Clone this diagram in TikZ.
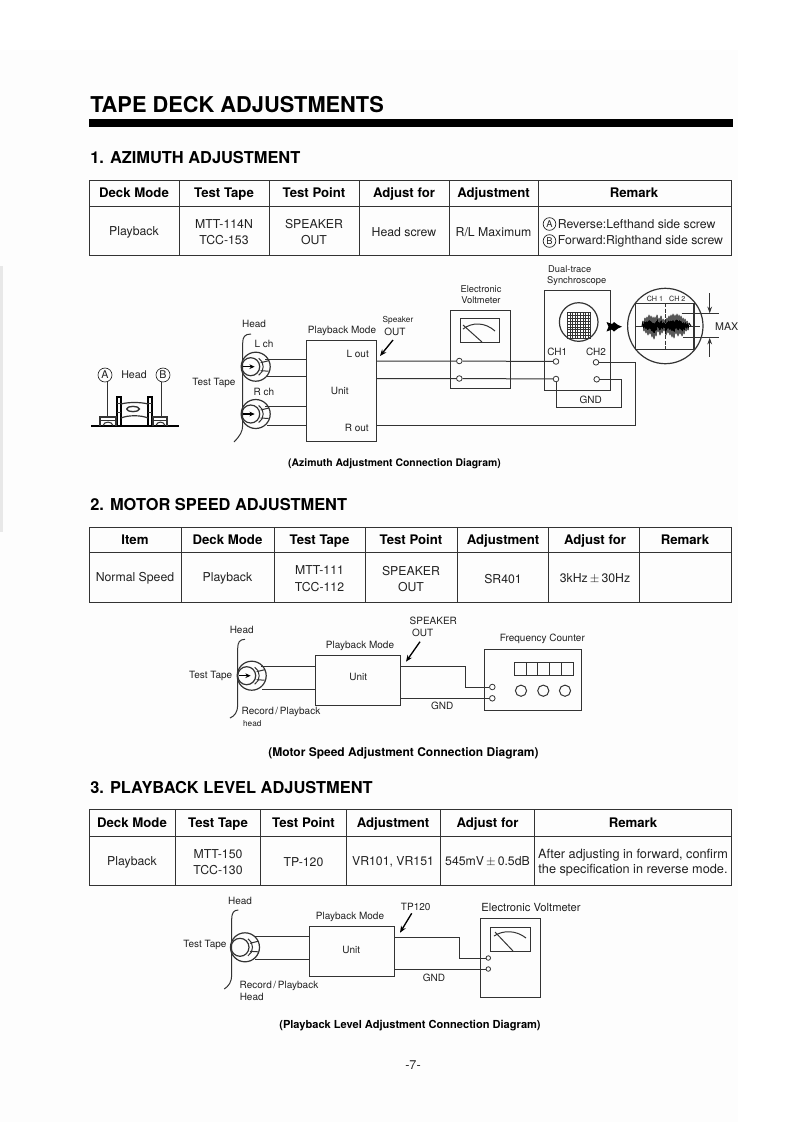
\documentclass[tikz,border=0pt]{standalone}
\usepackage{fontspec}
\setmainfont{TeX Gyre Heros}
\usetikzlibrary{fit,arrows.meta,shapes.geometric}
\definecolor{ink}{gray}{0.13}
\definecolor{lineink}{gray}{0.2}
\tikzset{
  x=0.75pt,y=-0.75pt,
  wire/.style={draw=lineink,line width=0.75pt},
  thinw/.style={draw=lineink,line width=0.6pt},
  txt/.style={inner sep=0pt,text=ink,align=center,font=\fontsize{7.5}{9}\selectfont},
  txts/.style={txt,font=\fontsize{6.2}{7.5}\selectfont},
  txtm/.style={txt,font=\fontsize{7}{8.5}\selectfont},
  cell/.style={inner sep=0pt,text=ink,align=center,font=\fontsize{9.2}{12.2}\selectfont},
  hcell/.style={inner sep=0pt,text=black,align=center,text height=7.1pt,text depth=0pt,font=\bfseries\fontsize{9.9}{12}\selectfont},
  heading/.style={inner sep=0pt,anchor=west,text=black,font=\bfseries\fontsize{12.3}{14}\selectfont},
  captext/.style={inner sep=0pt,text=black,font=\bfseries\fontsize{7.8}{9}\selectfont},
  boxn/.style={draw=lineink,line width=0.75pt,inner sep=0pt,rectangle},
  term/.style={draw=lineink,fill=white,circle,inner sep=0pt,minimum size=4.2pt,line width=0.6pt},
  cnum/.style={draw=ink,circle,inner sep=0pt,minimum size=9.5pt,line width=0.5pt,text=ink,font=\fontsize{7}{8}\selectfont},
  pointer/.style={draw=black,line width=1pt,-{Stealth[length=5pt,width=4pt]}},
  tapehead/.pic={
    \draw[wire,line width=0.9pt] (0,0) circle[radius=14.5];
    \draw[wire,line width=0.9pt] (-5,0) circle[radius=9];
    \draw[wire] (3,-8.5) .. controls (9,-5) and (9,5) .. (3,8.5);
    \draw[wire] (5,-4) -- (13,-6) (5,4) -- (13,4.5);
  },
  headarrow/.pic={
    \draw[draw=black,line width=1pt,-{Stealth[length=4pt,width=3.5pt]}] (-13,0) -- (-1,0);
  },
}
\newcommand{\bracecurve}[6]{\draw[wire] (#1,#2) .. controls (#3+2,#2) and (#3,#2+3) .. (#3,#2+9) -- (#3,#4-8) .. controls (#3,#4-1) and (#3-3,#4+3) .. (#5,#6);}
\begin{document}
\begin{tikzpicture}
\useasboundingbox (0,0) rectangle (793,1122);
\fill[white] (0,0) rectangle (793,1122);
\fill[gray!1.5] (0,50) rectangle (738,1122);
\fill[gray!18] (0,266) rectangle (3,532);
% title
\node[inner sep=0pt,anchor=west,text=black,font=\bfseries\fontsize{16.35}{18}\selectfont] (title) at (90,105) {TAPE DECK ADJUSTMENTS};
\fill[black] (89,118.5) rectangle (733,127);
% ===== section 1 =====
\node[heading] (h1) at (90,158) {1. AZIMUTH ADJUSTMENT};
\draw[wire] (89,180) rectangle (731,255) (89,206) -- (731,206);
\foreach \c in {179,269,359,449,538} \draw[wire] (\c,180) -- (\c,255);
\node[hcell] (a1) at (134,192.7) {Deck Mode};
\node[hcell] (a2) at (224,192.7) {Test Tape};
\node[hcell] (a3) at (314,192.7) {Test Point};
\node[hcell] (a4) at (404,192.7) {Adjust for};
\node[hcell] (a5) at (493.5,192.7) {Adjustment};
\node[hcell] (a6) at (634,192.7) {Remark};
\node[cell] (b1) at (134,232) {Playback};
\node[cell] (b2) at (224,232) {MTT-114N\\TCC-153};
\node[cell] (b3) at (314,232) {SPEAKER\\OUT};
\node[cell] (b4) at (404,232) {Head screw};
\node[cell] (b5) at (493.5,232) {R/L Maximum};
\node[cnum] (ca) at (549.5,224) {A};
\node[cnum] (cb) at (549.5,241) {B};
\node[cell,anchor=west] (b6a) at (557.5,224) {Reverse:Lefthand side screw};
\node[cell,anchor=west] (b6b) at (557.5,241) {Forward:Righthand side screw};
% head symbol, left
\node[cnum,font=\fontsize{8}{9}\selectfont,minimum size=10.5pt] (A) at (105,375) {A};
\node[txt,font=\fontsize{8}{9}\selectfont] (headlbl) at (134,375) {Head};
\node[cnum,font=\fontsize{8}{9}\selectfont,minimum size=10.5pt] (B) at (163,375) {B};
\coordinate (Ab) at (107,418);
\coordinate (Bb) at (161,418);
\draw[wire] (A.south-|Ab) -- (Ab);
\draw[wire] (B.south-|Bb) -- (Bb);
\draw[line width=1pt,draw=black] (91,426) -- (179,426);
\draw[line width=1.1pt,draw=black] (117,425.5) -- (117,397) -- (121,397) -- (121,425.5);
\draw[line width=1.1pt,draw=black] (148,425.5) -- (148,397) -- (152,397) -- (152,425.5);
\draw[wire] (117,403) -- (121,403) (117,412) -- (121,412) (148,403) -- (152,403) (148,412) -- (152,412);
\draw[wire,line width=0.9pt] (121,404) .. controls (128,402) and (141,402) .. (148,404);
\draw[wire,line width=0.9pt] (121,418) .. controls (128,415) and (141,415) .. (148,418);
\draw[wire,line width=1pt] (126.5,409) .. controls (127,405.5) and (139,405.5) .. (139.5,409) .. controls (139,412.5) and (127,412.5) .. (126.5,409);
\draw[wire,line width=0.9pt] (100,425.5) -- (100,417) -- (116,417) -- (116,425.5);
\draw[wire,line width=0.9pt] (153,425.5) -- (153,417) -- (167,417) -- (167,425.5);
\draw[wire] (100,420) -- (116,420) (153,420) -- (167,420);
\draw[wire] (103,425.5) .. controls (104,421) and (112,421) .. (113,425.5);
\draw[wire] (156,425.5) .. controls (157,421) and (164,421) .. (165,425.5);
% deck side
\node[txt] (th1) at (214,383) {Test Tape};
\node[txt] (hd1) at (254,324) {Head};
\node[txt] (lch) at (264,344) {L ch};
\node[txt] (rch) at (264,392) {R ch};
\bracecurve{251}{334}{242.7}{433}{234}{442}
\pic at (255.7,366.7) {tapehead};
\pic at (255.7,366.7) {headarrow};
\pic at (255.7,414) {tapehead};
\pic at (255.7,414) {headarrow};
\node[fit={(306.7,340)(376,441)},boxn] (unit1) {};
\node[txt] (pm1) at (342,331) {Playback Mode};
\node[txt] (un1) at (339.7,391) {Unit};
\node[txt] (lo1) at (357.7,353.7) {L out};
\node[txt] (ro1) at (356.7,428) {R out};
\node[txts] (spk) at (398,320.5) {Speaker};
\node[txt] (ou1) at (395,331.7) {OUT};
\coordinate (arr1) at (393,340);
\draw[pointer] (arr1) -- (380,356);
\coordinate (hl1) at (265,359);\coordinate (hl2) at (267,376.7);
\coordinate (hr1) at (265,406);\coordinate (hr2) at (267,425);
\draw[wire] (hl1) -- (hl1-|unit1.west);
\draw[wire] (hl2) -- (hl2-|unit1.west);
\draw[wire] (hr1) -- (hr1-|unit1.west);
\draw[wire] (hr2) -- (hr2-|unit1.west);
% voltmeter
\node[fit={(450.7,310)(510,388.7)},boxn] (vm1) {};
\node[txtm] (evl) at (481,294.5) {Electronic\\Voltmeter};
\draw[wire] (460.7,318) rectangle (499.3,342);
\draw[wire] (463,325) -- (482,342);
\draw[wire] (463,329) .. controls (472,322) and (485,322) .. (495,331);
% scope
\node[fit={(544.3,290)(610.7,390)},boxn] (sc) {};
\node[txtm] (dt) at (569.7,269.3) {Dual-trace};
\node[txtm] (sy) at (576.7,281) {Synchroscope};
\draw[wire,line width=0.9pt] (578.7,322) circle[radius=19.3];
\foreach \g in {0,...,9} {
  \draw[thinw,line width=0.5pt] (567.3+\g*2.6,312.7) -- (567.3+\g*2.6,338.3);
  \draw[thinw,line width=0.5pt] (567.3,312.7+\g*2.84) -- (590.7,312.7+\g*2.84);
}
\node[txt] (c1) at (557.3,352) {CH1};
\node[txt] (c2) at (596,352) {CH2};
\node[term] (v1) at (459.3,361) {};
\node[term] (v2) at (459.3,378.5) {};
\node[term] (s1) at (556,361.5) {};
\node[term] (s2) at (556,379) {};
\node[term] (s3) at (596,362.3) {};
\node[term] (s4) at (596.7,379.3) {};
\draw[wire] (unit1.east|-v1) -- (v1) (v1) -- (s1);
\draw[wire] (unit1.east|-v2) -- (v2) (v2) -- (s2);
\coordinate (k1) at (635.7,362.3);
\coordinate (k2) at (635.7,425.5);
\draw[wire] (s3) -- (k1) -- (k2) -- (k2-|unit1.east);
\coordinate (g1) at (621,379.3);
\coordinate (g2) at (621,407);
\draw[wire] (s4) -- (g1) -- (g2) -- (g2-|s2) -- (s2);
\node[txt] (gnd1) at (590.7,400) {GND};
% fat arrow
\fill[black] (606.5,322) -- (612,324) -- (614,322) -- (618,325) -- (622,326.7) -- (618,328.4) -- (614,331.5) -- (612,329.5) -- (606.5,331.5) -- (608.5,326.7) -- cycle;
% lens
\draw[wire,line width=0.9pt] (665.3,326) circle[radius=37.7];
\draw[wire,line width=1pt] (635.3,303.3) -- (694,303.3) -- (694,349.3) -- (635.3,349.3) -- cycle;
\draw[wire,dashed,dash pattern=on 3pt off 1pt] (665.7,303.3) -- (665.7,349.3);
\draw[wire] (636,326) -- (700,326);
\node[txts,font=\fontsize{5.4}{6}\selectfont] (lc1) at (655,299) {CH 1};
\node[txts,font=\fontsize{5.4}{6}\selectfont] (lc2) at (677.3,299) {CH 2};
\draw[black,line width=0.7pt,line join=round]
 (642,326) -- (643,321) -- (644,331) -- (645,318) -- (646,333) -- (647,317) -- (648,335) -- (649,315) -- (650,334)
 -- (651,316) -- (652,337) -- (653,317) -- (654,339) -- (655,317) -- (656,336) -- (657,315) -- (658,332) -- (659,318)
 -- (660,335) -- (661,316) -- (662,333) -- (663,319) -- (664,331) -- (665,320) -- (666,335) -- (667,318) -- (668,333)
 -- (669,316) -- (670,335) -- (671,315) -- (672,337) -- (673,314) -- (674,338) -- (675,315) -- (676,334) -- (677,314)
 -- (678,336) -- (679,315) -- (680,334) -- (681,316) -- (682,336) -- (683,318) -- (684,334) -- (685,319) -- (686,331)
 -- (687,321) -- (688,330) -- (689,323) -- (691,326);
\coordinate (m1a) at (681.7,313.3);\coordinate (m1b) at (719.3,313.3);
\coordinate (m2a) at (683,337.7);\coordinate (m2b) at (719.3,337.7);
\draw[wire] (m1a) -- (m1b) (m2a) -- (m2b);
\coordinate (ma1) at (709.7,293);\coordinate (ma2) at (709.7,356.7);
\draw[wire,-{Stealth[length=5pt,width=3.5pt]}] (ma1) -- (ma1|-m1a);
\draw[wire,-{Stealth[length=5pt,width=3.5pt]}] (ma2) -- (ma2|-m2a);
\node[txt,font=\fontsize{8}{9}\selectfont] (maxl) at (726.7,326.7) {MAX};
\node[captext] (cap1) at (394.5,464) {(Azimuth Adjustment Connection Diagram)};
% ===== section 2 =====
\node[heading] (h2) at (90,505) {2. MOTOR SPEED ADJUSTMENT};
\draw[wire] (89,527) rectangle (731,602) (89,552.5) -- (731,552.5);
\foreach \c in {181,274,365,457.5,548,639} \draw[wire] (\c,527) -- (\c,602);
\node[hcell] (d0) at (135,540) {Item};
\node[hcell] (d1) at (227.5,540) {Deck Mode};
\node[hcell] (d2) at (319.5,540) {Test Tape};
\node[hcell] (d3) at (411,540) {Test Point};
\node[hcell] (d4) at (503,540) {Adjustment};
\node[hcell] (d5) at (595,540) {Adjust for};
\node[hcell] (d6) at (685,540) {Remark};
\node[cell] (e0) at (135,578.7) {Normal Speed};
\node[cell] (e1) at (227.5,578.7) {Playback};
\node[cell] (e2) at (319.5,578.7) {MTT-111\\TCC-112};
\node[cell] (e3) at (411,578.7) {SPEAKER\\OUT};
\node[cell] (e4) at (503,578.7) {SR401};
\node[cell] (e5) at (595,578.7) {3kHz$\,\pm\,$30Hz};
% diagram 2
\node[txt] (hd2) at (241.7,630) {Head};
\node[txt] (tt2) at (210.7,675.7) {Test Tape};
\bracecurve{245}{639.3}{237.7}{713}{230}{718}
\pic at (251.7,675.7) {tapehead};
\pic at (251.7,675.7) {headarrow};
\node[fit={(315.7,655.7)(400.7,705.7)},boxn] (unit2) {};
\node[txt] (pm2) at (360,646) {Playback Mode};
\node[txt] (un2) at (358.3,677) {Unit};
\node[txt] (sp2) at (433.3,621) {SPEAKER};
\node[txt] (ou2) at (422.7,632.7) {OUT};
\coordinate (arr2) at (420,641.7);
\draw[pointer] (arr2) -- (406,661.7);
\coordinate (h21) at (261,666);\coordinate (h22) at (262,689);
\draw[wire] (h21) -- (h21-|unit2.west);
\draw[wire] (h22) -- (h22-|unit2.west);
\node[fit={(484,649.3)(581,710)},boxn] (fc) {};
\node[txt] (fcl) at (542.3,639.3) {Frequency Counter};
\node[term] (t21) at (492.3,687) {};
\node[term] (t22) at (492.3,698.3) {};
\coordinate (k21) at (465,666);
\coordinate (k22) at (465,687);
\draw[wire] (unit2.east|-k21) -- (k21) -- (k22) -- (t21);
\draw[wire] (unit2.east|-t22) -- (t22);
\node[txt] (gnd2) at (442.3,705.7) {GND};
\draw[wire] (514.3,662.3) rectangle (573.3,675.7);
\foreach \c in {526.1,537.9,549.7,561.5} \draw[wire] (\c,662.3) -- (\c,675.7);
\draw[wire] (521,690.7) circle[radius=5.6] (543.3,690.7) circle[radius=5.6] (565,690.7) circle[radius=5.6];
\node[txt] (rp2) at (281,712.3) {Record\,/\,Playback};
\node[txts] (hh2) at (252.3,724) {head};
\node[captext,font=\bfseries\fontsize{9}{11}\selectfont] (cap2) at (403.5,753.3) {(Motor Speed Adjustment Connection Diagram)};
% ===== section 3 =====
\node[heading] (h3) at (90,788) {3. PLAYBACK LEVEL ADJUSTMENT};
\draw[wire] (89,809) rectangle (731,885) (89,836) -- (731,836);
\foreach \c in {175,260.5,346,440,534.5} \draw[wire] (\c,809) -- (\c,885);
\node[hcell] (f1) at (132,822.7) {Deck Mode};
\node[hcell] (f2) at (218,822.7) {Test Tape};
\node[hcell] (f3) at (303.5,822.7) {Test Point};
\node[hcell] (f4) at (393,822.7) {Adjustment};
\node[hcell] (f5) at (487.5,822.7) {Adjust for};
\node[hcell] (f6) at (633,822.7) {Remark};
\node[cell] (g1c) at (132,862) {Playback};
\node[cell] (g2c) at (218,862) {MTT-150\\TCC-130};
\node[cell] (g3c) at (303.5,862) {TP-120};
\node[cell] (g4c) at (393,862) {VR101, VR151};
\node[cell] (g5c) at (487.5,862) {545mV$\,\pm\,$0.5dB};
\node[cell,font=\fontsize{9.55}{11.4}\selectfont] (g6c) at (633,862.5) {After adjusting in forward, confirm\\the specification in reverse mode.};
% diagram 3
\node[txt] (hd3) at (240,900.7) {Head};
\node[txt] (tt3) at (205,945) {Test Tape};
\bracecurve{238.3}{910}{231.7}{983}{224.3}{989}
\pic at (245,947.3) {tapehead};
\node[fit={(309,926)(394,976.7)},boxn] (unit3) {};
\node[txt] (pm3) at (350,917.3) {Playback Mode};
\node[txt] (un3) at (351.3,950) {Unit};
\node[txt] (tp3) at (415.7,906.7) {TP120};
\coordinate (arr3) at (411.7,913.3);
\draw[pointer] (arr3) -- (400,932.7);
\coordinate (h31) at (254,936.7);\coordinate (h32) at (255,959);
\draw[wire] (h31) -- (h31-|unit3.west);
\draw[wire] (h32) -- (h32-|unit3.west);
\node[fit={(480.7,918.3)(540,997.3)},boxn] (vm3) {};
\node[txt,font=\fontsize{8.4}{10}\selectfont] (ev3) at (531,907) {Electronic Voltmeter};
\draw[wire] (490.7,927.3) rectangle (530,951);
\draw[wire] (495,932) -- (513,951);
\draw[wire] (494,936) .. controls (503,930) and (516,930) .. (526,938);
\node[term,minimum size=3.4pt] (t31) at (488.3,958) {};
\node[term,minimum size=3.4pt] (t32) at (488.3,969) {};
\coordinate (k31) at (459.3,937.3);
\coordinate (k32) at (459.3,958);
\draw[wire] (unit3.east|-k31) -- (k31) -- (k32) -- (t31);
\draw[wire] (unit3.east|-t32) -- (t32);
\node[txt] (gnd3) at (434,977.7) {GND};
\node[txt] (rp3) at (279,985.7) {Record\,/\,Playback};
\node[txt] (hh3) at (251.7,997.3) {Head};
\node[captext,font=\bfseries\fontsize{8.3}{10}\selectfont] (cap3) at (410,1026) {(Playback Level Adjustment Connection Diagram)};
\node[inner sep=0pt,text=ink,font=\fontsize{9.5}{11}\selectfont] (pg) at (413,1065) {-7-};
\end{tikzpicture}
\end{document}
